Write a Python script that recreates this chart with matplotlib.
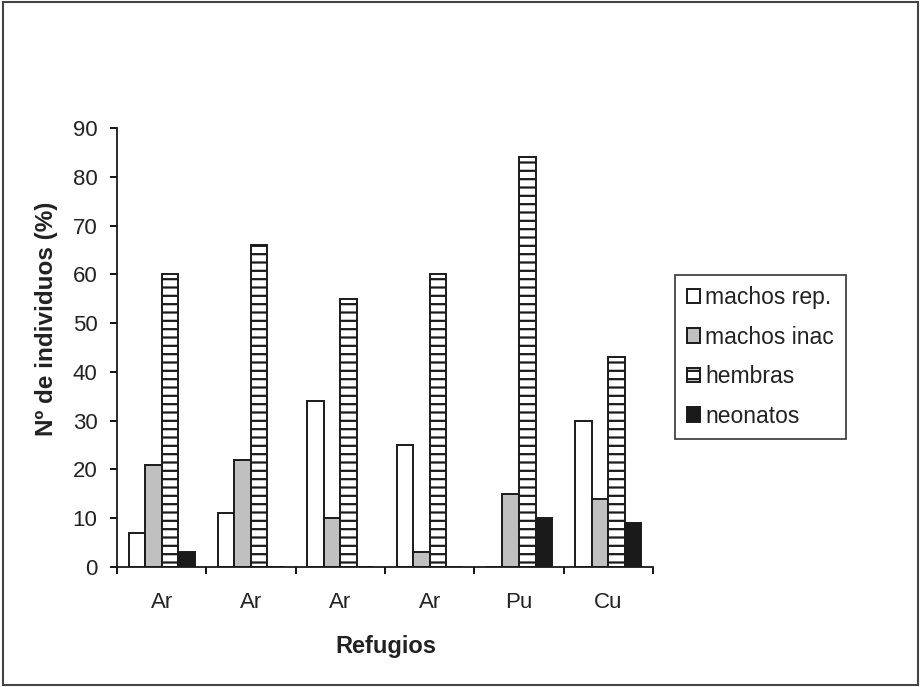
import numpy as np
import matplotlib
matplotlib.use("Agg")
import matplotlib.pyplot as plt
from matplotlib.patches import Rectangle

plt.rcParams["font.family"] = ["Liberation Sans", "DejaVu Sans"]
plt.rcParams["hatch.linewidth"] = 1.6

refugios = ["Ar", "Ar", "Ar", "Ar", "Pu", "Cu"]
series = ["machos rep.", "machos inac", "hembras", "neonatos"]
machos_rep = [7, 11, 34, 25, 0, 30]
machos_inac = [21, 22, 10, 3, 15, 14]
hembras = [60, 66, 55, 60, 84, 43]
neonatos = [3, 0, 0, 0, 10, 9]

values = [machos_rep, machos_inac, hembras, neonatos]
colors = ["white", "#c0c0c0", "white", "#1a1a1a"]
hatches = [None, None, "--", None]

fig = plt.figure(figsize=(9.21, 6.87), dpi=100)
ax = fig.add_axes([0.127, 0.1747, 0.582, 0.639])

x = np.arange(len(refugios))
w = 0.185
for i, (vals, c, h) in enumerate(zip(values, colors, hatches)):
    ax.bar(x + (i - 1.5) * w, vals, width=w, color=c, edgecolor="#1a1a1a",
           linewidth=1.4, hatch=h, label=series[i])

ax.set_xlim(-0.5, len(refugios) - 0.5)
ax.set_ylim(0, 90)
ax.set_yticks(range(0, 91, 10))
ax.set_xticks(x)
ax.set_xticklabels(refugios)
ax.set_xticks(np.arange(-0.5, len(refugios)), minor=True)
ax.tick_params(axis="x", which="major", length=0, pad=18, labelsize=16, labelcolor="#222222")
ax.tick_params(axis="x", which="minor", length=5, width=1.3, direction="out")
ax.tick_params(axis="y", length=5, width=1.3, direction="out", labelsize=16, pad=9,
               labelcolor="#222222")
for s in ["top", "right"]:
    ax.spines[s].set_visible(False)
for s in ["left", "bottom"]:
    ax.spines[s].set_linewidth(1.3)
    ax.spines[s].set_color("#1a1a1a")

ax.set_xlabel("Refugios", fontsize=17, fontweight="bold", color="#222222")
ax.xaxis.set_label_coords(0.502, -0.155)
ax.set_ylabel("Nº de individuos (%)", fontsize=17.5, fontweight="bold", color="#222222")
ax.yaxis.set_label_coords(-0.11, 0.565)

leg = fig.legend(loc="upper left", bbox_to_anchor=(0.733, 0.600), fontsize=16.5,
                 fancybox=False, edgecolor="#333333", framealpha=1,
                 handlelength=0.6, handleheight=0.6, handletextpad=0.22,
                 labelspacing=0.72, borderpad=0.5, borderaxespad=0)
leg.get_frame().set_linewidth(1.2)
for t in leg.get_texts():
    t.set_color("#222222")

fig.patches.append(Rectangle((0.003, 0.003), 0.994, 0.994, transform=fig.transFigure,
                             fill=False, edgecolor="#444444", linewidth=1.5))

fig.savefig("out.png", dpi=100)
